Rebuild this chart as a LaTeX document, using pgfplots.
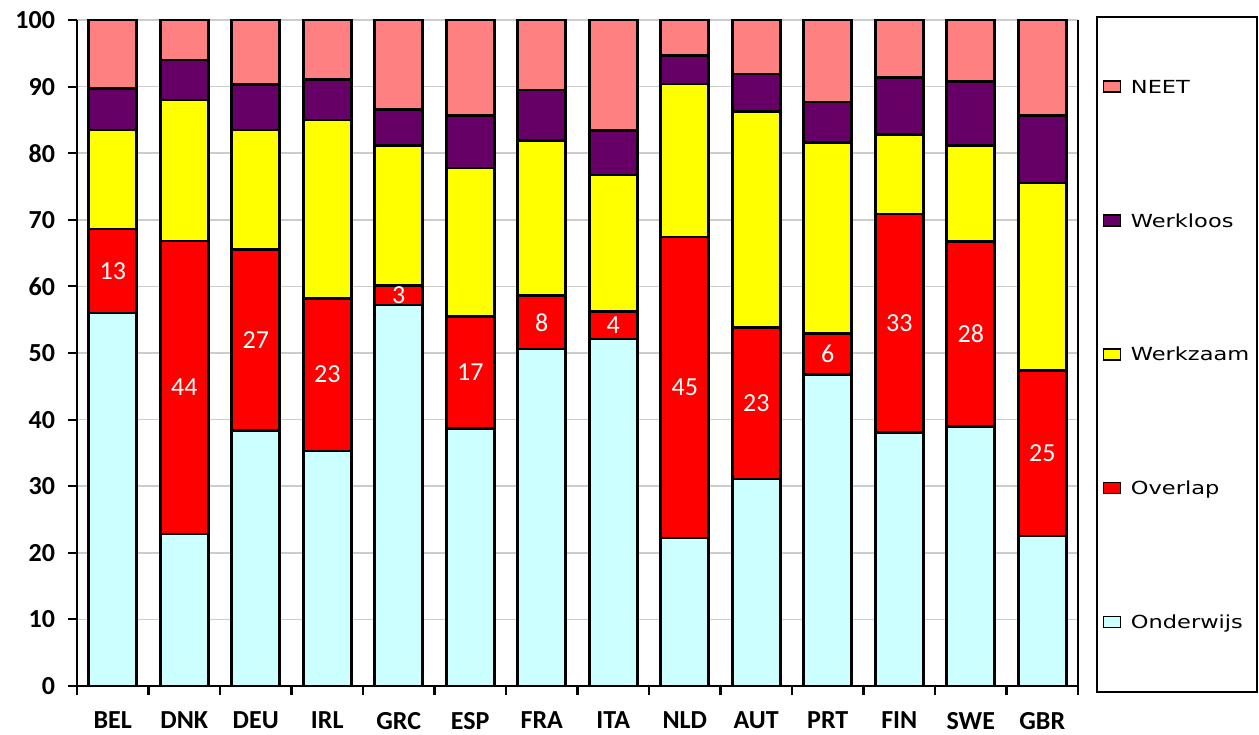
\documentclass[border=0pt]{standalone}
\usepackage{pgfplots}
\pgfplotsset{compat=1.18}
\usepackage{pgfplotstable}
\usepackage{fontspec}
\setmainfont{Carlito}
\newfontfamily\legendfont{DejaVu Sans}[FakeStretch=1.25]
\definecolor{neet}{HTML}{FF8080}
\definecolor{werkloos}{HTML}{660066}
\definecolor{werkzaam}{HTML}{FFFF00}
\definecolor{overlap}{HTML}{FF0000}
\definecolor{onderwijs}{HTML}{CCFFFF}
\pgfplotstableread{
x lab ond ovl wz wl neet
0 BEL 56.0 12.6 14.9 6.2 10.3
1 DNK 22.8 44.0 21.2 6.0 6.0
2 DEU 38.4 27.1 18.0 6.8 9.7
3 IRL 35.3 22.9 26.8 6.1 8.9
4 GRC 57.2 2.9 21.1 5.4 13.4
5 ESP 38.7 16.8 22.3 7.9 14.3
6 FRA 50.6 8.0 23.3 7.6 10.5
7 ITA 52.1 4.1 20.5 6.7 16.6
8 NLD 22.2 45.2 23.0 4.3 5.3
9 AUT 31.1 22.7 32.5 5.6 8.1
10 PRT 46.8 6.1 28.7 6.1 12.3
11 FIN 38.1 32.8 11.9 8.6 8.6
12 SWE 39.0 27.7 14.5 9.6 9.2
13 GBR 22.5 24.9 28.1 10.2 14.3
}\datatable
\begin{document}
\begin{tikzpicture}
\useasboundingbox (0,0) rectangle (629.5pt,367pt);
\begin{axis}[
  at={(38.5pt,24pt)}, anchor=south west,
  scale only axis, width=500.5pt, height=333pt,
  ybar stacked, bar width=24pt,
  xmin=-0.5, xmax=13.5, ymin=0, ymax=100,
  xtick={0,...,13},
  xticklabels={BEL,DNK,DEU,IRL,GRC,ESP,FRA,ITA,NLD,AUT,PRT,FIN,SWE,GBR},
  minor xtick={-0.5,0.5,...,13.5},
  ytick={0,10,...,100},
  axis x line*=bottom, axis y line*=left,
  axis line style={line width=1.2pt, black},
  tick align=outside,
  major tick length=4.5pt, minor tick length=4.5pt,
  xtick style={draw=none},
  minor x tick style={draw=black, line width=1.2pt},
  ytick style={draw=black, line width=1.0pt},
  ymajorgrids, grid style={black!20, line width=0.8pt},
  /pgf/number format/assume math mode=true,
  ticklabel style={font=\fontsize{13}{13}\selectfont\bfseries},
  xticklabel style={yshift=-5pt},
  yticklabel style={xshift=-3pt},
  reverse legend,
  legend cell align=left,
  legend image code/.code={\draw[#1, draw=black, line width=0.8pt] (0pt,-2.75pt) rectangle (8.5pt,2.75pt); \path (12pt,0pt);},
  legend style={at={(1.018,1.006)}, anchor=north west, draw=black, line width=0.8pt,
    minimum width=79.5pt, minimum height=337.5pt,
    font=\legendfont\fontsize{9}{9}\selectfont,
    row sep=54.4pt,
    nodes={inner sep=1pt, minimum width=0pt, minimum height=0pt, text height=8.5pt, text depth=2pt}},
  after end axis/.code={\draw[black, line width=1pt] (rel axis cs:1,0) -- (rel axis cs:1,1);},
]
\addplot[fill=onderwijs, draw=black, line width=1.3pt] table[x=x, y=ond] {\datatable};
\addlegendentry{Onderwijs}
\addplot[fill=overlap, draw=black, line width=1.3pt,
  point meta=explicit,
  nodes near coords={\pgfmathprintnumber[fixed,precision=0]{\pgfplotspointmeta}},
  every node near coord/.append style={anchor=center, text=white, font=\fontsize{13}{13}\selectfont},
  ] table[x=x, y=ovl, meta=ovl] {\datatable};
\addlegendentry{Overlap}
\addplot[fill=werkzaam, draw=black, line width=1.3pt] table[x=x, y=wz] {\datatable};
\addlegendentry{Werkzaam}
\addplot[fill=werkloos, draw=black, line width=1.3pt] table[x=x, y=wl] {\datatable};
\addlegendentry{Werkloos}
\addplot[fill=neet, draw=black, line width=1.3pt] table[x=x, y=neet] {\datatable};
\addlegendentry{NEET}
\end{axis}
\end{tikzpicture}
\end{document}
